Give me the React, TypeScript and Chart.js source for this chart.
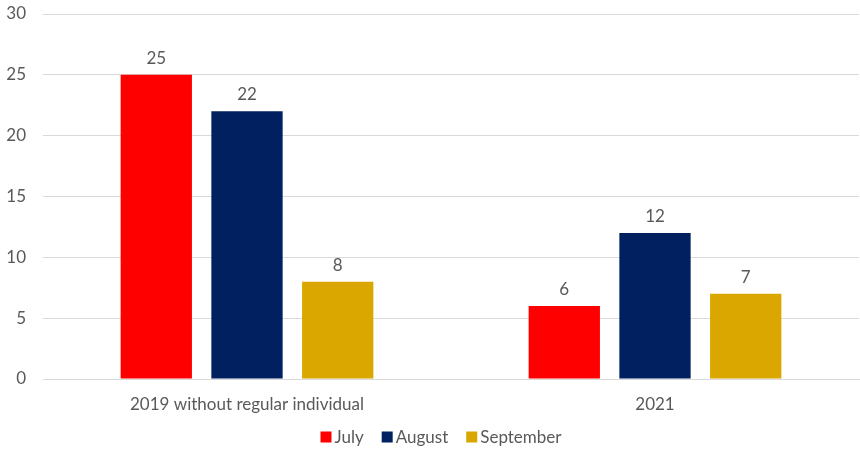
import React, { useEffect, useRef } from "react";
import { Chart, registerables } from "chart.js";

Chart.register(...registerables);

const categories = ["2019 without regular individual", "2021"];
const seriesNames = ["July", "August", "September"];
const julyValues = [25, 6];
const augustValues = [22, 12];
const septemberValues = [8, 7];
const seriesColors = ["#FF0000", "#002060", "#DAA600"];
const yTicks = [0, 5, 10, 15, 20, 25, 30];

const FONT = "Lato, 'Open Sans', sans-serif";
const TEXT = "#595959";
const FS = 17;

const valueLabels = {
  id: "valueLabels",
  afterDatasetsDraw(chart: any) {
    const ctx = chart.ctx;
    ctx.save();
    ctx.font = `${FS}px ${FONT}`;
    ctx.fillStyle = TEXT;
    ctx.textAlign = "center";
    ctx.textBaseline = "bottom";
    chart.data.datasets.forEach((ds: any, i: number) => {
      const meta = chart.getDatasetMeta(i);
      meta.data.forEach((bar: any, j: number) => {
        ctx.fillText(String(ds.data[j]), bar.x, bar.y - 8);
      });
    });
    ctx.restore();
  },
};

const bottomLegend = {
  id: "bottomLegend",
  afterDraw(chart: any) {
    const ctx = chart.ctx;
    ctx.save();
    ctx.font = `${FS}px ${FONT}`;
    ctx.textBaseline = "middle";
    ctx.textAlign = "left";
    const box = 11;
    const gapBoxText = 3;
    const gapItems = 18;
    const items = chart.data.datasets.map((ds: any) => ({
      label: ds.label,
      color: ds.backgroundColor,
      w: box + gapBoxText + ctx.measureText(ds.label).width,
    }));
    const total = items.reduce((s: number, it: any) => s + it.w, 0) + gapItems * (items.length - 1);
    let x = 441 - total / 2;
    const y = chart.height - 12;
    items.forEach((it: any) => {
      ctx.fillStyle = it.color;
      ctx.fillRect(x, y - box / 2, box, box);
      ctx.fillStyle = TEXT;
      ctx.fillText(it.label, x + box + gapBoxText, y + 1);
      x += it.w + gapItems;
    });
    ctx.restore();
  },
};

export default function App() {
  const ref = useRef<HTMLCanvasElement>(null);
  useEffect(() => {
    const chart = new Chart(ref.current!, {
      type: "bar",
      data: {
        labels: categories,
        datasets: [julyValues, augustValues, septemberValues].map((d, i) => ({
          label: seriesNames[i],
          data: d,
          backgroundColor: seriesColors[i],
          borderWidth: 0,
          categoryPercentage: 0.667,
          barPercentage: 0.786,
        })),
      },
      options: {
        animation: false,
        responsive: false,
        maintainAspectRatio: false,
        layout: { padding: { top: 14, right: 1, left: 0, bottom: 25 } },
        scales: {
          x: {
            grid: { display: false },
            border: { color: "#D9D9D9" },
            ticks: { color: TEXT, font: { family: FONT, size: FS }, padding: 7 },
            afterFit: (axis: any) => {
              axis.height = 45;
            },
          },
          y: {
            min: 0,
            max: 30,
            afterBuildTicks: (axis: any) => {
              axis.ticks = yTicks.map((v) => ({ value: v }));
            },
            afterFit: (axis: any) => {
              axis.width = 43;
              axis.paddingTop = 0;
              axis.paddingBottom = 0;
            },
            grid: { color: "#D9D9D9", drawTicks: false },
            border: { display: false },
            ticks: { color: TEXT, font: { family: FONT, size: FS }, padding: 17 },
          },
        },
        plugins: {
          legend: { display: false },
          tooltip: { enabled: false },
        },
      },
      plugins: [valueLabels, bottomLegend],
    });
    return () => chart.destroy();
  }, []);
  return (
    <div style={{ position: "fixed", left: 0, top: 0, width: 860, height: 449, overflow: "hidden", background: "#fff" }}>
      <canvas ref={ref} width={860} height={449} />
    </div>
  );
}
